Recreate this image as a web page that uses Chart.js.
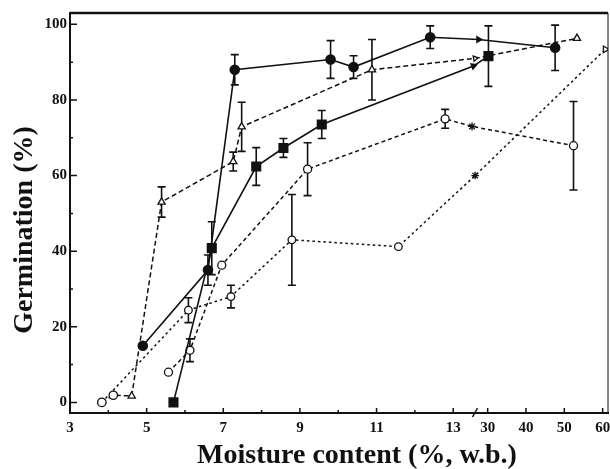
<!DOCTYPE html>
<html>
<head>
<meta charset="utf-8">
<script src="https://cdn.jsdelivr.net/npm/chart.js@4.4.1/dist/chart.umd.min.js"></script>
<style>
  html, body { margin: 0; padding: 0; background: #fff; }
  #wrap { width: 610px; height: 469px; }
</style>
</head>
<body>
<div id="wrap"><canvas id="germChart" width="610" height="469"></canvas></div>
<script>
// broken moisture axis: 3..13 linear, then 30..60 compressed by 10
var xTickValues = [3, 5, 7, 9, 11, 13, 30, 40, 50, 60];
var xTickLabels = ['3', '5', '7', '9', '11', '13', '30', '40', '50', '60'];
var xMinorValues = [4, 6, 8, 10, 12];
var yTickValues = [0, 20, 40, 60, 80, 100];
var yTickLabels = ['0', '20', '40', '60', '80', '100'];
var yMinorValues = [10, 30, 50, 70, 90];

// filled circles, solid line
var fcMoist = [4.9, 6.6, 7.3, 9.8, 10.4, 12.4, 25.5, 47.6];
var fcGerm  = [15, 35, 88, 90.7, 88.7, 96.6, 96, 93.8];
var fcErr   = [0, 4, 4, 5, 3, 3, 0, 6];

// filled squares, solid line
var fsMoist = [5.7, 6.7, 7.86, 8.57, 9.57, 23, 30.2];
var fsGerm  = [0, 40.8, 62.4, 67.3, 73.5, 89, 91.6];
var fsErr   = [0, 7, 5, 2.5, 3.7, 0, 8];

// open triangles, dashed line
var otMoist = [3.83, 4.13, 4.61, 5.39, 7.26, 7.48, 10.88, 23.8, 53.3];
var otGerm  = [0, 1.9, 1.7, 53, 63.7, 72.9, 88, 91, 96.3];
var otErr   = [0, 0, 0, 4, 2.5, 6.5, 8, 0, 0];

// open circles, dotted line (lower curve)
var odMoist = [3.83, 6.09, 7.2, 8.79, 11.57, 23.8, 60.7];
var odGerm  = [0, 24.4, 28, 43, 41.2, 60, 93.4];
var odErr   = [0, 3.3, 3, 12, 0, 0, 0];

// open circles, dashed line
var ocMoist = [5.57, 6.13, 6.96, 9.2, 12.79, 22.3, 52.4];
var ocGerm  = [8, 13.8, 36.3, 61.7, 75, 73, 67.9];
var ocErr   = [0, 3, 0, 7, 2.5, 0, 11.7];

function axisPos(m) {
    if (m <= 13) return m;
    if (m < 30) return 13 + (m - 13) / 17 * 0.9;
    return 13.9 + (m - 30) / 10;
}

function points(xs, ys) {
    return xs.map(function(m, i) { return { x: axisPos(m), y: ys[i] }; });
}

var FONT = '"Liberation Serif", "DejaVu Serif", serif';

var errorBars = {
    id: 'errorBars',
    beforeDatasetsDraw: function(chart) {
        var ctx = chart.ctx, xs = chart.scales.x, ys = chart.scales.y;
        ctx.save();
        ctx.strokeStyle = '#111';
        ctx.lineWidth = 1.6;
        chart.data.datasets.forEach(function(ds) {
            if (!ds.errors) return;
            ds.data.forEach(function(p, i) {
                var e = ds.errors[i];
                if (!e) return;
                var px = xs.getPixelForValue(p.x);
                var top = ys.getPixelForValue(p.y + e);
                var bot = ys.getPixelForValue(p.y - e);
                ctx.beginPath();
                ctx.moveTo(px, top); ctx.lineTo(px, bot);
                ctx.moveTo(px - 4, top); ctx.lineTo(px + 4, top);
                ctx.moveTo(px - 4, bot); ctx.lineTo(px + 4, bot);
                ctx.stroke();
            });
        });
        ctx.restore();
    }
};

var frame = {
    id: 'frame',
    afterDraw: function(chart) {
        var ctx = chart.ctx, a = chart.chartArea;
        var xs = chart.scales.x, ys = chart.scales.y;
        ctx.save();
        ctx.strokeStyle = '#111';
        // top and right border
        ctx.lineWidth = 2.5;
        ctx.beginPath();
        ctx.moveTo(a.left, a.top); ctx.lineTo(a.right, a.top);
        ctx.stroke();
        ctx.lineWidth = 1;
        ctx.beginPath();
        ctx.moveTo(a.right, a.top); ctx.lineTo(a.right, a.bottom);
        ctx.stroke();
        // inward ticks
        ctx.lineWidth = 1.5;
        ctx.beginPath();
        xTickValues.forEach(function(v) {
            var px = xs.getPixelForValue(axisPos(v));
            ctx.moveTo(px, a.bottom); ctx.lineTo(px, a.bottom - 5);
        });
        xMinorValues.forEach(function(v) {
            var px = xs.getPixelForValue(axisPos(v));
            ctx.moveTo(px, a.bottom); ctx.lineTo(px, a.bottom - 3);
        });
        yTickValues.forEach(function(v) {
            var py = ys.getPixelForValue(v);
            ctx.moveTo(a.left, py); ctx.lineTo(a.left + 7, py);
        });
        yMinorValues.forEach(function(v) {
            var py = ys.getPixelForValue(v);
            ctx.moveTo(a.left, py); ctx.lineTo(a.left + 3, py);
        });
        ctx.stroke();
        // axis break mark
        var bx = xs.getPixelForValue(axisPos(24));
        ctx.beginPath();
        ctx.moveTo(bx - 3, a.bottom + 4); ctx.lineTo(bx + 2, a.bottom - 5);
        ctx.stroke();
        // axis titles
        ctx.fillStyle = '#111';
        ctx.font = 'bold 28px ' + FONT;
        ctx.textAlign = 'center';
        ctx.textBaseline = 'middle';
        ctx.fillText('Moisture content (%, w.b.)', 357, 456);
        ctx.translate(25, 230);
        ctx.rotate(-Math.PI / 2);
        ctx.fillText('Germination (%)', 0, 0);
        ctx.restore();
    }
};

window.onload = function() {
    var ctx = document.getElementById('germChart').getContext('2d');
    var chart = new Chart(ctx, {
        type: 'scatter',
        data: {
            datasets: [{
                label: 'filled circles',
                data: points(fcMoist, fcGerm),
                errors: fcErr,
                showLine: true,
                borderColor: '#111',
                borderWidth: 1.6,
                backgroundColor: '#111',
                pointStyle: function(c) { return c.dataIndex === 6 ? 'triangle' : 'circle'; },
                pointRotation: function(c) { return c.dataIndex === 6 ? 90 : 0; },
                pointRadius: function(c) { return c.dataIndex === 6 ? 3 : 4.5; }
            }, {
                label: 'filled squares',
                data: points(fsMoist, fsGerm),
                errors: fsErr,
                showLine: true,
                borderColor: '#111',
                borderWidth: 1.6,
                backgroundColor: '#111',
                pointStyle: function(c) { return c.dataIndex === 5 ? 'triangle' : 'rect'; },
                pointRotation: function(c) { return c.dataIndex === 5 ? 70 : 0; },
                pointRadius: function(c) { return c.dataIndex === 5 ? 3 : 6; }
            }, {
                label: 'open triangles',
                data: points(otMoist, otGerm),
                errors: otErr,
                showLine: true,
                borderColor: '#111',
                borderWidth: 1.5,
                borderDash: [5, 3],
                backgroundColor: '#fff',
                pointBorderWidth: 1.3,
                pointStyle: function(c) { return (c.dataIndex === 0 || c.dataIndex === 1) ? 'circle' : 'triangle'; },
                pointRotation: function(c) { return c.dataIndex === 7 ? 80 : 0; },
                pointRadius: function(c) { return c.dataIndex === 7 ? 3 : 4.2; }
            }, {
                label: 'open circles dotted',
                data: points(odMoist, odGerm),
                errors: odErr,
                showLine: true,
                borderColor: '#111',
                borderWidth: 1.5,
                borderDash: [2.5, 3],
                backgroundColor: '#fff',
                pointBorderWidth: 1.3,
                pointStyle: function(c) {
                    if (c.dataIndex === 5) return 'star';
                    if (c.dataIndex === 6) return 'triangle';
                    return 'circle';
                },
                pointRotation: function(c) { return c.dataIndex === 6 ? 90 : 0; },
                pointRadius: 3.8
            }, {
                label: 'open circles dashed',
                data: points(ocMoist, ocGerm),
                errors: ocErr,
                showLine: true,
                borderColor: '#111',
                borderWidth: 1.5,
                borderDash: [4, 3],
                backgroundColor: '#fff',
                pointBorderWidth: 1.3,
                pointStyle: function(c) { return c.dataIndex === 5 ? 'star' : 'circle'; },
                pointRadius: 4
            }]
        },
        options: {
            responsive: false,
            animation: false,
            devicePixelRatio: 1,
            layout: { autoPadding: false, padding: { left: 0, top: 13, right: 2, bottom: 0 } },
            scales: {
                x: {
                    type: 'linear',
                    min: 3,
                    max: 17.04,
                    afterBuildTicks: function(scale) {
                        scale.ticks = xTickValues.map(function(v) { return { value: axisPos(v) }; });
                    },
                    afterFit: function(scale) {
                        scale.height = 56;
                        scale.paddingLeft = 0;
                        scale.paddingRight = 0;
                    },
                    ticks: {
                        autoSkip: false,
                        maxRotation: 0,
                        padding: 6,
                        color: '#111',
                        font: { family: FONT, size: 15, weight: 'bold' },
                        callback: function(value, index) { return xTickLabels[index]; }
                    },
                    grid: { display: false, drawTicks: false, tickLength: 0 },
                    border: { display: true, color: '#111', width: 2 }
                },
                y: {
                    type: 'linear',
                    min: -2.8,
                    max: 103,
                    afterBuildTicks: function(scale) {
                        scale.ticks = yTickValues.map(function(v) { return { value: v }; });
                    },
                    afterFit: function(scale) {
                        scale.width = 70;
                        scale.paddingTop = 0;
                        scale.paddingBottom = 0;
                    },
                    ticks: {
                        autoSkip: false,
                        padding: 3,
                        color: '#111',
                        font: { family: FONT, size: 15, weight: 'bold' },
                        callback: function(value, index) { return yTickLabels[index]; }
                    },
                    grid: { display: false, drawTicks: false, tickLength: 0 },
                    border: { display: true, color: '#111', width: 2 }
                }
            },
            plugins: {
                legend: { display: false },
                tooltip: { enabled: false }
            }
        },
        plugins: [errorBars, frame]
    });
};
</script>
</body>
</html>
